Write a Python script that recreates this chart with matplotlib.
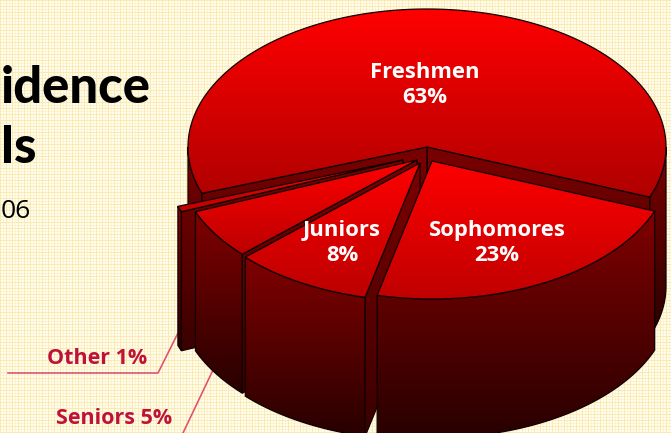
import numpy as np
import matplotlib
matplotlib.use("Agg")
import matplotlib.pyplot as plt
from matplotlib.patches import Polygon
from matplotlib.colors import to_rgb

# ---------- data ----------
categories = ["Sophomores", "Juniors", "Seniors", "Other", "Freshmen"]
shares = [23, 8, 5, 1, 63]
# label text, drawn from the data
inside_two_line = ["Freshmen", "Sophomores", "Juniors"]
outside_one_line = ["Other", "Seniors"]

# ---------- layout ----------
W, H = 671, 433
RX, RY, DEPTH = 239, 138, 139
START = 21.3
# the original's 3-D perspective stretches each slice's drawn sweep a little
perspective = {"Sophomores": 0.99, "Juniors": 1.17, "Seniors": 1.167, "Other": 0.667, "Freshmen": 0.974}
apex = {"Sophomores": (432, 161), "Juniors": (420, 163), "Seniors": (417, 160),
        "Other": (403, 160), "Freshmen": (427, 147)}
label_pos = {"Freshmen": (425, 85), "Sophomores": (497, 243), "Juniors": (342, 243)}
out_pos = {"Other": (147, 359), "Seniors": (172, 419)}
leaders = {"Other": [(8, 373), (158, 373), (178, 333)], "Seniors": [(213, 370), (183, 433)]}
FONT = "Open Sans"
CRIMSON = "#BE1238"

fig = plt.figure(figsize=(W / 100, H / 100), dpi=100)
ax = fig.add_axes([0, 0, 1, 1])
ax.set_axis_off()

# plaid paper background
bg = np.ones((H, W, 3)) * np.array(to_rgb("#FFFDF0"))
line = np.array(to_rgb("#FBE9B2"))
for k in range(0, W, 6):
    bg[:, k] = line
for k in range(0, H, 6):
    bg[k, :] = line
for k in range(3, W, 6):
    bg[:, k] = 0.55 * bg[:, k] + 0.45 * line
for k in range(3, H, 6):
    bg[k, :] = 0.55 * bg[k, :] + 0.45 * line
ax.imshow(bg, extent=(0, W, H, 0), aspect="auto", zorder=0, interpolation="nearest")

z = [1]


def gradient_poly(pts, c_top, c_bot):
    pts = np.asarray(pts, float)
    y0, y1 = pts[:, 1].min(), pts[:, 1].max()
    x0, x1 = pts[:, 0].min(), pts[:, 0].max()
    t = np.linspace(0, 1, 128)[:, None, None]
    img = (1 - t) * np.array(to_rgb(c_top)) + t * np.array(to_rgb(c_bot))
    z[0] += 1
    im = ax.imshow(img, extent=(x0, x1, y1, y0), aspect="auto", zorder=z[0], interpolation="bilinear")
    patch = Polygon(pts, closed=True, transform=ax.transData, facecolor="none", edgecolor="none")
    ax.add_patch(patch)
    im.set_clip_path(patch)
    z[0] += 1
    ax.add_patch(Polygon(pts, closed=True, facecolor="none", edgecolor="#120000", lw=0.9, zorder=z[0]))


def arc(c, a0, a1, n=120):
    a = np.radians(np.linspace(a0, a1, n))
    return np.column_stack([c[0] + RX * np.cos(a), c[1] + RY * np.sin(a)])


def side_face(c, ang):
    p = arc(c, ang, ang, 1)[0]
    gradient_poly([c, p, (p[0], p[1] + DEPTH), (c[0], c[1] + DEPTH)], "#7C0000", "#3A0000")


def outer_wall(c, a0, a1):
    top = arc(c, a0, a1)
    bot = top[::-1] + np.array([0, DEPTH])
    gradient_poly(np.vstack([top, bot]), "#800000", "#280000")


def top_face(c, a0, a1, c_top, c_bot):
    gradient_poly(np.vstack([[c], arc(c, a0, a1, 240)]), c_top, c_bot)


# sweep of each slice
edges = {}
cur = START
for name, s in zip(categories, shares):
    sweep = s * 3.6 * perspective[name]
    edges[name] = (cur, cur + sweep)
    cur += sweep

# back to front
a0, a1 = edges["Freshmen"]
c = apex["Freshmen"]
outer_wall(c, 360, a1)
outer_wall(c, a0, 180)
side_face(c, a1 - 360)
side_face(c, a0)
top_face(c, a0, a1, "#FF0000", "#B00000")

for name in ["Other", "Seniors", "Juniors"]:
    a0, a1 = edges[name]
    c = apex[name]
    outer_wall(c, a0, a1)
    side_face(c, a0)
    top_face(c, a0, a1, "#FF0000", "#BC0000")

a0, a1 = edges["Sophomores"]
c = apex["Sophomores"]
outer_wall(c, a0, a1)
top_face(c, a0, a1, "#FF0000", "#C00000")

value = dict(zip(categories, shares))
zt = z[0] + 5
for name in inside_two_line:
    x, y = label_pos[name]
    ax.text(x, y, f"{name}\n{value[name]}%", color="white", family=FONT, weight="bold",
            fontsize=15.8, ha="center", va="center", linespacing=1.25, zorder=zt)
for name in outside_one_line:
    x, y = out_pos[name]
    ax.text(x, y, f"{name} {value[name]}%", color=CRIMSON, family=FONT, weight="bold",
            fontsize=15.5, ha="right", va="center", zorder=zt)
    pts = np.array(leaders[name])
    ax.plot(pts[:, 0], pts[:, 1], color="#DE5570", lw=1.2, zorder=1, solid_joinstyle="miter")

ax.text(151, 103, "idence", color="black", family="Lato", weight=900, fontsize=36.5, ha="right", va="baseline", zorder=zt)
ax.text(1.5, 163, "ls", color="black", family="Lato", weight=900, fontsize=36.5, ha="left", va="baseline", zorder=zt)
ax.text(30.5, 218, "06", color="black", family=FONT, fontsize=19, ha="right", va="baseline", zorder=zt)

ax.set_xlim(0, W)
ax.set_ylim(H, 0)
fig.savefig("out.png", dpi=100)
